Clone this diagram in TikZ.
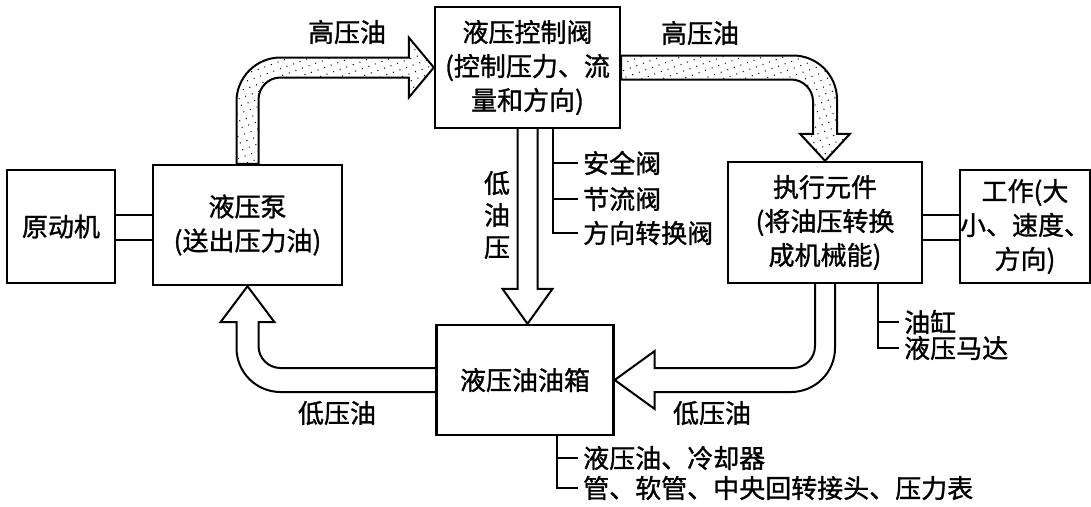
\documentclass[tikz,border=0pt]{standalone}
\usepackage{fontspec}
\setmainfont{Noto Sans CJK SC}[FakeBold=1.2]
\usepackage{tikz}
\usetikzlibrary{calc,patterns.meta}

\begin{document}
\begin{tikzpicture}[x=1pt,y=1pt,font=\fontsize{26}{34}\selectfont,
  box/.style={draw,line width=2.4pt,align=center,inner sep=0pt},
  flow/.style={draw,line width=2pt,line join=miter},
  hpflow/.style={flow,pattern={Dots[distance=7pt,radius=0.7pt,angle=20]}},
  tag/.style={anchor=west,inner sep=5pt},
  lead/.style={line width=2pt}]
\useasboundingbox (0,0) rectangle (1091,-506);
% boxes
\node[box,minimum width=108pt,minimum height=113pt] (prime) at (61,-226.5) {原动机};
\node[box,minimum width=189pt,minimum height=120pt] (pump) at (247.5,-225) {液压泵\\(送出压力油)};
\node[box,minimum width=185pt,minimum height=121pt] (valve) at (527.5,-67.5) {液压控制阀\\(控制压力、流\\量和方向)};
\node[box,minimum width=194pt,minimum height=121pt] (actuator) at (825,-222.5) {执行元件\\(将油压转换\\成机械能)};
\node[box,minimum width=116pt,minimum height=113pt] (work) at (1025,-226.5) {工作(大\\小、速度、\\方向)};
\node[box,minimum width=177pt,minimum height=110pt] (tank) at (525,-380) {液压油油箱};
% shafts between boxes
\draw[lead] ([yshift=12pt]prime.east) -- ([yshift=12pt]prime.east -| pump.west);
\draw[lead] ([yshift=-13pt]prime.east) -- ([yshift=-13pt]prime.east -| pump.west);
\draw[lead] ([yshift=12pt]work.west) -- ([yshift=12pt]work.west -| actuator.east);
\draw[lead] ([yshift=-13pt]work.west) -- ([yshift=-13pt]work.west -| actuator.east);
% high pressure oil
\coordinate (h1) at (pump.north |- valve.west);
\draw[hpflow] ($(pump.north)+(-11,0)$) -- ($(h1)+(-11,-34)$) arc[start angle=180,end angle=90,radius=44pt]
  -- ($(valve.west)+(-25,10)$) -- ++(0,20) -- (valve.west) -- ++(-25,-30) -- ++(0,20)
  -- ($(h1)+(33,-10)$) arc[start angle=90,end angle=180,radius=22pt] -- ($(pump.north)+(11,0)$) -- cycle;
\coordinate (h2) at (actuator.north |- valve.east);
\draw[hpflow] ($(valve.east)+(0,12)$) -- ($(h2)+(-32,12)$) arc[start angle=90,end angle=0,radius=44pt]
  -- ($(actuator.north)+(12,27)$) -- ++(13,0) -- (actuator.north) -- ++(-25,27) -- ++(13,0)
  -- ($(h2)+(-12,-34)$) arc[start angle=0,end angle=90,radius=22pt] -- ($(valve.east)+(0,-12)$) -- cycle;
% low pressure oil
\draw[flow] ($(valve.south)+(-10,0)$) -- ($(valve.south |- tank.north)+(-10,35)$) -- ++(-15,0)
  -- (valve.south |- tank.north) -- ++(25,35) -- ++(-15,0) -- ($(valve.south)+(10,0)$);
\coordinate (h3) at (actuator.south |- tank.east);
\draw[flow] ($(actuator.south)+(10,0)$) -- ($(h3)+(10,32)$) arc[start angle=0,end angle=-90,radius=44pt]
  -- ($(tank.east)+(40,-12)$) -- ++(0,-17) -- (tank.east) -- ++(40,29) -- ++(0,-17)
  -- ($(h3)+(-32,12)$) arc[start angle=-90,end angle=0,radius=22pt] -- ($(actuator.south)+(-10,0)$);
\coordinate (h4) at (pump.south |- tank.west);
\draw[flow] ($(tank.west)+(0,12)$) -- ($(h4)+(33,12)$) arc[start angle=270,end angle=180,radius=22pt]
  -- ($(pump.south)+(11,-36)$) -- ++(16,0) -- (pump.south) -- ++(-27,-36) -- ++(16,0)
  -- ($(h4)+(-11,32)$) arc[start angle=180,end angle=270,radius=44pt] -- ($(tank.west)+(0,-12)$);
% labels
\node (hpa) at (347,-32) {高压油};
\node (hpb) at (700,-33) {高压油};
\node (lpa) at (337,-413) {低压油};
\node (lpb) at (712,-413) {低压油};
\node[align=center,font=\fontsize{26}{32}\selectfont] (lpc) at (497,-215) {低\\油\\压};
% valve types
\coordinate (vb) at ([xshift=25pt]valve.south);
\node[tag] (v1) at (578,-163) {安全阀};
\node[tag] (v2) at (578,-199) {节流阀};
\node[tag] (v3) at (578,-233) {方向转换阀};
\draw[lead] (vb) |- (v3.west);
\draw[lead] (vb |- v1.west) -- (v1.west);
\draw[lead] (vb |- v2.west) -- (v2.west);
% actuator types
\coordinate (ab) at ([xshift=53pt]actuator.south);
\node[tag] (a1) at (899,-322) {油缸};
\node[tag] (a2) at (899,-348) {液压马达};
\draw[lead] (ab) |- (a2.west);
\draw[lead] (ab |- a1.west) -- (a1.west);
% tank parts
\coordinate (tb) at ([xshift=32pt]tank.south);
\node[tag] (t1) at (578,-458) {液压油、冷却器};
\node[tag] (t2) at (578,-488) {管、软管、中央回转接头、压力表};
\draw[lead] (tb) |- (t2.west);
\draw[lead] (tb |- t1.west) -- (t1.west);
\end{tikzpicture}
\end{document}
